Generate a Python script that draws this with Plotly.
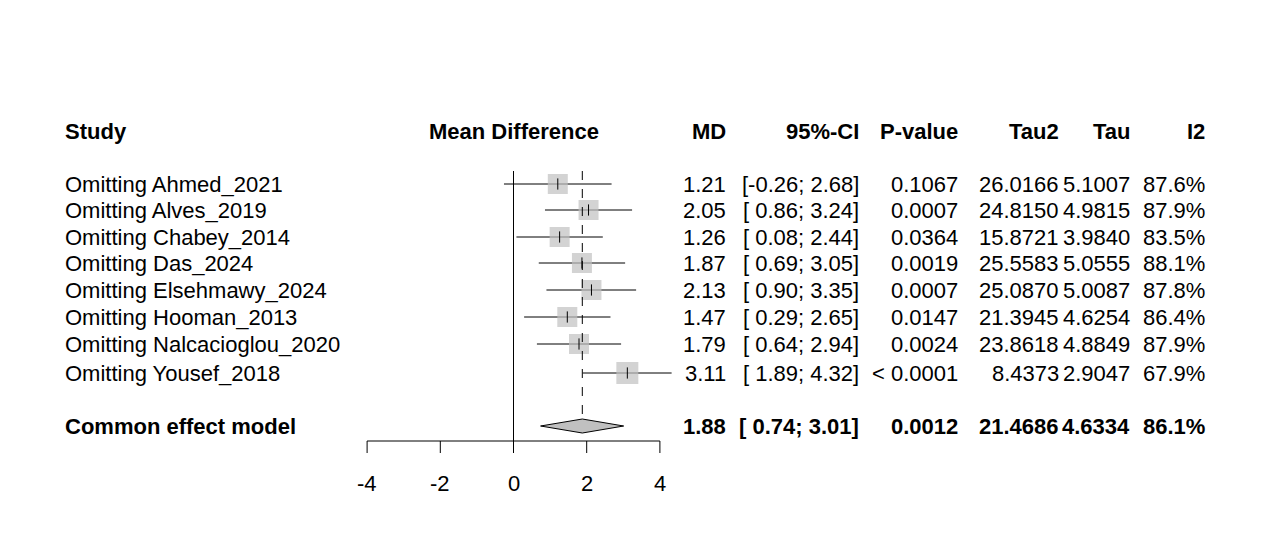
import plotly.graph_objects as go

studies = ["Omitting Ahmed_2021", "Omitting Alves_2019", "Omitting Chabey_2014", "Omitting Das_2024",
           "Omitting Elsehmawy_2024", "Omitting Hooman_2013", "Omitting Nalcacioglou_2020", "Omitting Yousef_2018"]
md = [1.21, 2.05, 1.26, 1.87, 2.13, 1.47, 1.79, 3.11]
lo = [-0.26, 0.86, 0.08, 0.69, 0.90, 0.29, 0.64, 1.89]
hi = [2.68, 3.24, 2.44, 3.05, 3.35, 2.65, 2.94, 4.32]
pval = ["0.1067", "0.0007", "0.0364", "0.0019", "0.0007", "0.0147", "0.0024", "< 0.0001"]
tau2 = ["26.0166", "24.8150", "15.8721", "25.5583", "25.0870", "21.3945", "23.8618", "8.4373"]
tau = ["5.1007", "4.9815", "3.9840", "5.0555", "5.0087", "4.6254", "4.8849", "2.9047"]
i2 = ["87.6%", "87.9%", "83.5%", "88.1%", "87.8%", "86.4%", "87.9%", "67.9%"]
sq = [20, 20, 20, 20, 20, 20, 20, 22]
ci_txt = ["[-0.26; 2.68]", "[ 0.86; 3.24]", "[ 0.08; 2.44]", "[ 0.69; 3.05]",
          "[ 0.90; 3.35]", "[ 0.29; 2.65]", "[ 0.64; 2.94]", "[ 1.89; 4.32]"]
summary = dict(md=1.88, lo=0.74, hi=3.01, ci="[ 0.74; 3.01]", p="0.0012",
               tau2="21.4686", tau="4.6334", i2="86.1%")
ticks = [-4, -2, 0, 2, 4]

W, H = 1269, 557
OFF = 8  # page body margin
x0px, unit = 513.5 - OFF, 36.6
rows_y = [168, 194, 221, 247, 274, 301, 328, 357]
sum_y = 410
FONT = "Liberation Sans, Arial, sans-serif"
FS = 22

fig = go.Figure()
for i in range(len(md)):
    fig.add_trace(go.Scatter(x=[lo[i], hi[i]], y=[rows_y[i]] * 2, mode="lines",
                             line=dict(color="black", width=1), showlegend=False))
fig.add_trace(go.Scatter(x=md, y=rows_y, mode="markers",
                         marker=dict(symbol="square", size=sq, color="#c0c0c0", line=dict(width=0)),
                         showlegend=False))
fig.add_trace(go.Scatter(x=md, y=rows_y, mode="markers",
                         marker=dict(symbol="line-ns", size=8, line=dict(color="black", width=1)),
                         showlegend=False))
fig.add_trace(go.Scatter(x=[summary["lo"], summary["md"], summary["hi"], summary["md"], summary["lo"]],
                         y=[sum_y, sum_y - 7, sum_y, sum_y + 7, sum_y], mode="lines", fill="toself",
                         fillcolor="#c0c0c0", line=dict(color="black", width=1), showlegend=False))

shapes = [
    dict(type="line", x0=0, x1=0, y0=155, y1=425, line=dict(color="black", width=1)),
    dict(type="line", x0=summary["md"], x1=summary["md"], y0=155, y1=400,
         line=dict(color="black", width=1, dash="dash")),
    dict(type="line", x0=ticks[0], x1=ticks[-1], y0=425, y1=425, line=dict(color="black", width=1)),
]
for t in ticks:
    shapes.append(dict(type="line", x0=t, x1=t, y0=425, y1=437, line=dict(color="black", width=1)))

ann = []
def txt(px, y, s, anchor, bold=False):
    ann.append(dict(x=(px - OFF) / W, xref="paper", y=y, yref="y", text=f"<b>{s}</b>" if bold else s,
                    showarrow=False, xanchor=anchor, yanchor="middle",
                    font=dict(family=FONT, size=FS, color="black")))

cols = [(728, "MD"), (861, "95%-CI"), (960, "P-value"), (1061, "Tau2"), (1132, "Tau"), (1207, "I2")]
txt(63, 115, "Study", "left", True)
txt(514, 115, "Mean Difference", "center", True)
for px, h in cols:
    txt(px, 115, h, "right", True)
for i in range(len(md)):
    txt(63, rows_y[i], studies[i], "left")
    vals = [f"{md[i]:.2f}", ci_txt[i], pval[i], tau2[i], tau[i], i2[i]]
    for (px, _), v in zip(cols, vals):
        txt(px, rows_y[i], v, "right")
txt(63, sum_y, "Common effect model", "left", True)
for (px, _), v in zip(cols, [f"{summary['md']:.2f}", summary["ci"], summary["p"],
                             summary["tau2"], summary["tau"], summary["i2"]]):
    txt(px, sum_y, v, "right", True)
for t in ticks:
    ann.append(dict(x=t, y=467, xref="x", yref="y", text=str(t), showarrow=False,
                    font=dict(family=FONT, size=FS, color="black")))

fig.update_layout(
    width=W, height=H, margin=dict(l=0, r=0, t=0, b=0),
    paper_bgcolor="white", plot_bgcolor="white",
    xaxis=dict(range=[-x0px / unit, (W - x0px) / unit], visible=False),
    yaxis=dict(range=[H - OFF, -OFF], visible=False),
    shapes=shapes, annotations=ann,
)
fig.write_html("out.html")
